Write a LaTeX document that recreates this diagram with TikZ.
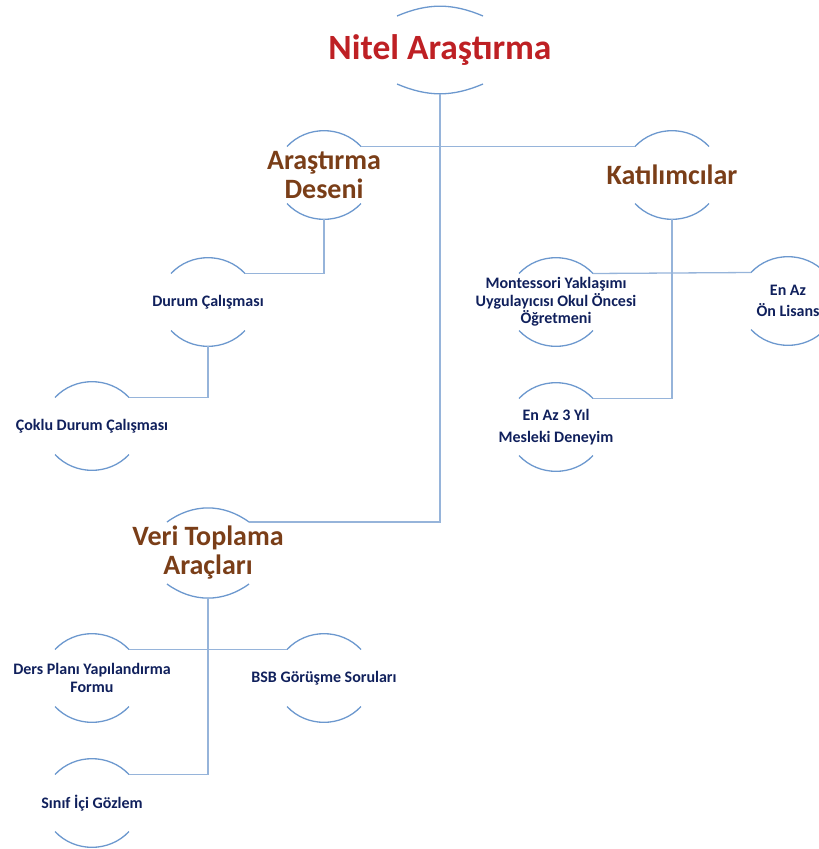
\documentclass[tikz,border=0pt]{standalone}
\usepackage{fontspec}
\setmainfont{Carlito}
\definecolor{topred}{RGB}{190,32,36}
\definecolor{midbrown}{RGB}{122,62,24}
\definecolor{leafnavy}{RGB}{16,32,92}
\definecolor{hoopblue}{RGB}{108,152,206}
\definecolor{linkblue}{RGB}{150,180,218}
\tikzset{
  hoop/.style={draw=hoopblue, line width=1.3pt},
  link/.style={draw=linkblue, line width=1.3pt},
  ktop/.style={text=topred, align=center, font=\bfseries\fontsize{35.5}{38}\selectfont},
  kmid/.style={text=midbrown, align=center, font=\bfseries\fontsize{28}{29}\selectfont},
  kleaf/.style={text=leafnavy, align=center, font=\bfseries\fontsize{16}{17.5}\selectfont},
}
% two arcs round a node: name, half chord, end offset, bend
\newcommand{\hoops}[4]{%
  \coordinate (#1-tl) at ([shift={(-#2,-#3)}]#1.center);
  \coordinate (#1-tr) at ([shift={(#2,-#3)}]#1.center);
  \coordinate (#1-bl) at ([shift={(-#2,#3)}]#1.center);
  \coordinate (#1-br) at ([shift={(#2,#3)}]#1.center);
  \draw[hoop] (#1-tl) to[bend left=#4] coordinate[midway] (#1-t) (#1-tr);
  \draw[hoop] (#1-bl) to[bend right=#4] coordinate[midway] (#1-b) (#1-br);
}

\begin{document}
\begin{tikzpicture}[x=1pt, y=-1pt]
  \useasboundingbox (0,0) rectangle (819,849);
  \node[ktop] (nitel) at (440,50) {Nitel Araştırma};
  \node[kmid] (deseni) at (324,175) {Araştırma\\Deseni};
  \node[kmid] (katil) at (672,175) {Katılımcılar};
  \node[kmid] (veri) at (208,553) {Veri Toplama\\Araçları};
  \node[kleaf] (durum) at (208,302) {Durum Çalışması};
  \node[kleaf] (coklu) at (92,426) {Çoklu Durum Çalışması};
  \node[kleaf] (mont) at (556,302) {Montessori Yaklaşımı\\Uygulayıcısı Okul Öncesi\\Öğretmeni};
  \node[kleaf] (enaz) at (788,301) {En Az\\[4pt]Ön Lisans};
  \node[kleaf] (yil) at (556,427) {En Az 3 Yıl\\[4pt]Mesleki Deneyim};
  \node[kleaf] (ders) at (92,678) {Ders Planı Yapılandırma\\Formu};
  \node[kleaf] (bsb) at (324,678) {BSB Görüşme Soruları};
  \node[kleaf] (sinif) at (92,803) {Sınıf İçi Gözlem};

  \hoops{nitel}{43}{34}{23}
  \hoops{veri}{41}{31}{36}
  \foreach \n in {deseni,katil,durum,coklu,mont,enaz,yil,ders,bsb,sinif}
    {\hoops{\n}{37}{28.5}{47}}

  \draw[link] (nitel-b) |- (veri-tr);
  \draw[link] (deseni-tr) -- (katil-tl);
  \draw[link] (deseni-b) |- (durum-tr);
  \draw[link] (durum-b) |- (coklu-tr);
  \draw[link] (mont-tr) -- (enaz-tl);
  \draw[link] (katil-b) |- (yil-tr);
  \draw[link] (ders-tr) -- (bsb-tl);
  \draw[link] (veri-b) |- (sinif-tr);
\end{tikzpicture}
\end{document}
